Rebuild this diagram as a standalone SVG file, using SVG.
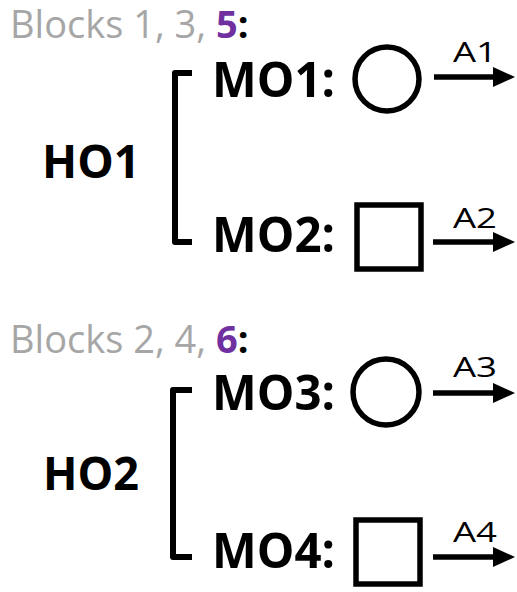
<svg xmlns="http://www.w3.org/2000/svg" width="517" height="592" viewBox="0 0 517 592">
<style>
.blk{font-family:"Open Sans","Liberation Sans",sans-serif;font-size:38px;fill:#a6a6a6}
.hi{fill:#7030a0;font-weight:bold}
.col{fill:#000;font-weight:bold}
.mo{font-family:"Open Sans","Liberation Sans",sans-serif;font-size:49px;font-weight:bold;fill:#000}
.ho{font-family:"Open Sans","Liberation Sans",sans-serif;font-size:46px;font-weight:bold;fill:#000}
.a{font-family:"Open Sans","Liberation Sans",sans-serif;font-size:28px;fill:#000}
.br{fill:none;stroke:#000;stroke-width:6;stroke-linejoin:round}
.shape{fill:none;stroke:#000;stroke-width:5.5}
.arr{stroke:#000;stroke-width:5.5;marker-end:url(#ah)}
</style>
<defs>
<marker id="ah" markerUnits="userSpaceOnUse" viewBox="0 0 22 20" refX="2" refY="10" markerWidth="22" markerHeight="20" orient="auto">
<path d="M0,0 L22,10 L0,20 Z" fill="#000"/>
</marker>
</defs>
<g id="header1">
<text class="blk" x="10" y="38">Blocks 1, 3, <tspan class="hi">5</tspan><tspan class="col">:</tspan></text>
</g>
<g id="HO1"><text class="ho" x="42" y="178" textLength="98" lengthAdjust="spacingAndGlyphs">HO1</text></g>
<g id="MO1"><text class="mo" x="212" y="97" textLength="123" lengthAdjust="spacingAndGlyphs">MO1:</text><circle class="shape" cx="387" cy="79" r="32"/></g>
<g id="MO2"><text class="mo" x="212" y="252" textLength="123" lengthAdjust="spacingAndGlyphs">MO2:</text><rect class="shape" x="357" y="205" width="64" height="64"/></g>
<g id="header2">
<text class="blk" x="10" y="353">Blocks 2, 4, <tspan class="hi">6</tspan><tspan class="col">:</tspan></text>
</g>
<g id="HO2"><text class="ho" x="43" y="490" textLength="96" lengthAdjust="spacingAndGlyphs">HO2</text></g>
<g id="MO3"><text class="mo" x="212" y="410" textLength="123" lengthAdjust="spacingAndGlyphs">MO3:</text><circle class="shape" cx="386" cy="392" r="33"/></g>
<g id="MO4"><text class="mo" x="212" y="568" textLength="123" lengthAdjust="spacingAndGlyphs">MO4:</text><rect class="shape" x="356" y="520" width="64" height="64"/></g>
<g id="connectors">
<path class="br" d="M192,73 H175 V242 H192"/>
<path class="br" d="M192,390 H173 V557 H192"/>
<line class="arr" x1="434" y1="77" x2="495" y2="77"/>
<line class="arr" x1="433" y1="242" x2="495" y2="242"/>
<line class="arr" x1="433" y1="393" x2="495" y2="393"/>
<line class="arr" x1="433" y1="557" x2="495" y2="557"/>
<text class="a" x="453" y="62" textLength="44" lengthAdjust="spacingAndGlyphs">A1</text>
<text class="a" x="453" y="228" textLength="44" lengthAdjust="spacingAndGlyphs">A2</text>
<text class="a" x="453" y="377" textLength="44" lengthAdjust="spacingAndGlyphs">A3</text>
<text class="a" x="453" y="542" textLength="44" lengthAdjust="spacingAndGlyphs">A4</text>
</g>
</svg>
